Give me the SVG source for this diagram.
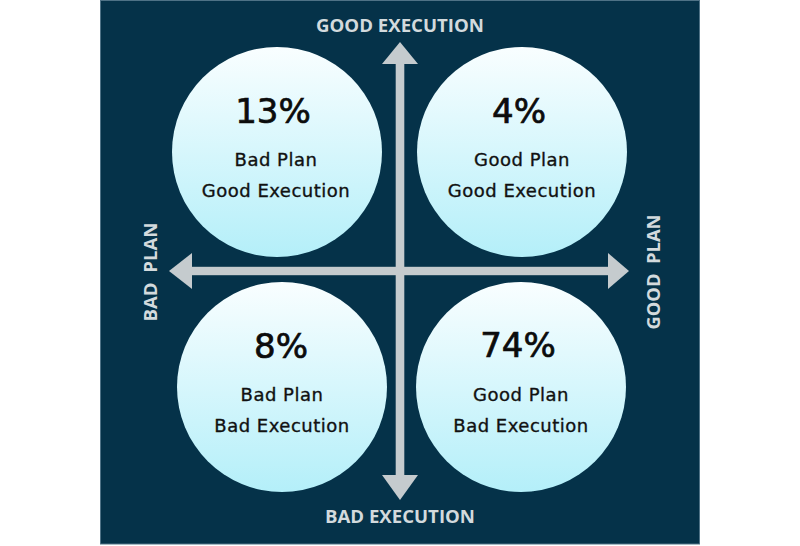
<svg xmlns="http://www.w3.org/2000/svg" width="800" height="546" viewBox="0 0 800 546">
  <defs>
    <linearGradient id="bubble" x1="0" y1="0" x2="0" y2="1">
      <stop offset="0" stop-color="#f9feff"/>
      <stop offset="1" stop-color="#b4eff9"/>
    </linearGradient>
    <style>
      .bub { fill: url(#bubble); }
      .pct { font-family: "DejaVu Sans", sans-serif; font-size: 34px; fill: #0c0c0c; stroke: #0c0c0c; stroke-width: 0.7px; text-anchor: middle; }
      .lbl { font-family: "DejaVu Sans", sans-serif; font-size: 18px; fill: #111; stroke: #111; stroke-width: 0.35px; text-anchor: middle; letter-spacing: 0.5px; }
      .axis { font-family: "Open Sans", sans-serif; font-weight: bold; font-size: 17px; fill: #d3dadd; text-anchor: middle; }
      .arr { fill: #c5cbce; }
    </style>
  </defs>
  <rect x="100.5" y="0.5" width="599" height="543.5" fill="#053249" stroke="#4f7286" stroke-width="1"/>

  <g id="connectors">
    <rect class="arr" x="395.7" y="60" width="8.6" height="418"/>
    <polygon class="arr" points="400,42 418,64 382,64"/>
    <polygon class="arr" points="400,500 418,475 382,475"/>
    <rect class="arr" x="189" y="266.8" width="422" height="8.4"/>
    <polygon class="arr" points="169,271 192,253 192,289"/>
    <polygon class="arr" points="629,271 608,253 608,289"/>
  </g>

  <g id="node-bad-plan-good-exec">
    <circle class="bub" cx="277" cy="152" r="105"/>
    <text class="pct" x="273" y="123">13%</text>
    <text class="lbl" x="276" y="166">Bad Plan</text>
    <text class="lbl" x="276" y="197">Good Execution</text>
  </g>
  <g id="node-good-plan-good-exec">
    <circle class="bub" cx="522" cy="152" r="105"/>
    <text class="pct" x="519" y="123">4%</text>
    <text class="lbl" x="522" y="166">Good Plan</text>
    <text class="lbl" x="522" y="197">Good Execution</text>
  </g>
  <g id="node-bad-plan-bad-exec">
    <circle class="bub" cx="282" cy="387" r="105"/>
    <text class="pct" x="281" y="358">8%</text>
    <text class="lbl" x="282" y="401">Bad Plan</text>
    <text class="lbl" x="282" y="432">Bad Execution</text>
  </g>
  <g id="node-good-plan-bad-exec">
    <circle class="bub" cx="521" cy="387" r="105"/>
    <text class="pct" x="518" y="357">74%</text>
    <text class="lbl" x="521" y="401">Good Plan</text>
    <text class="lbl" x="521" y="432">Bad Execution</text>
  </g>

  <g id="axis-labels">
    <text class="axis" x="400" y="32" textLength="168" lengthAdjust="spacingAndGlyphs">GOOD EXECUTION</text>
    <text class="axis" x="400" y="523" font-size="18" textLength="150" lengthAdjust="spacingAndGlyphs">BAD EXECUTION</text>
    <text class="axis" transform="translate(157,272) rotate(-90)" x="0" y="0" font-size="20" textLength="99" lengthAdjust="spacingAndGlyphs" xml:space="preserve">BAD  PLAN</text>
    <text class="axis" transform="translate(660,272) rotate(-90)" x="0" y="0" font-size="20" textLength="115" lengthAdjust="spacingAndGlyphs" xml:space="preserve">GOOD  PLAN</text>
  </g>
</svg>
